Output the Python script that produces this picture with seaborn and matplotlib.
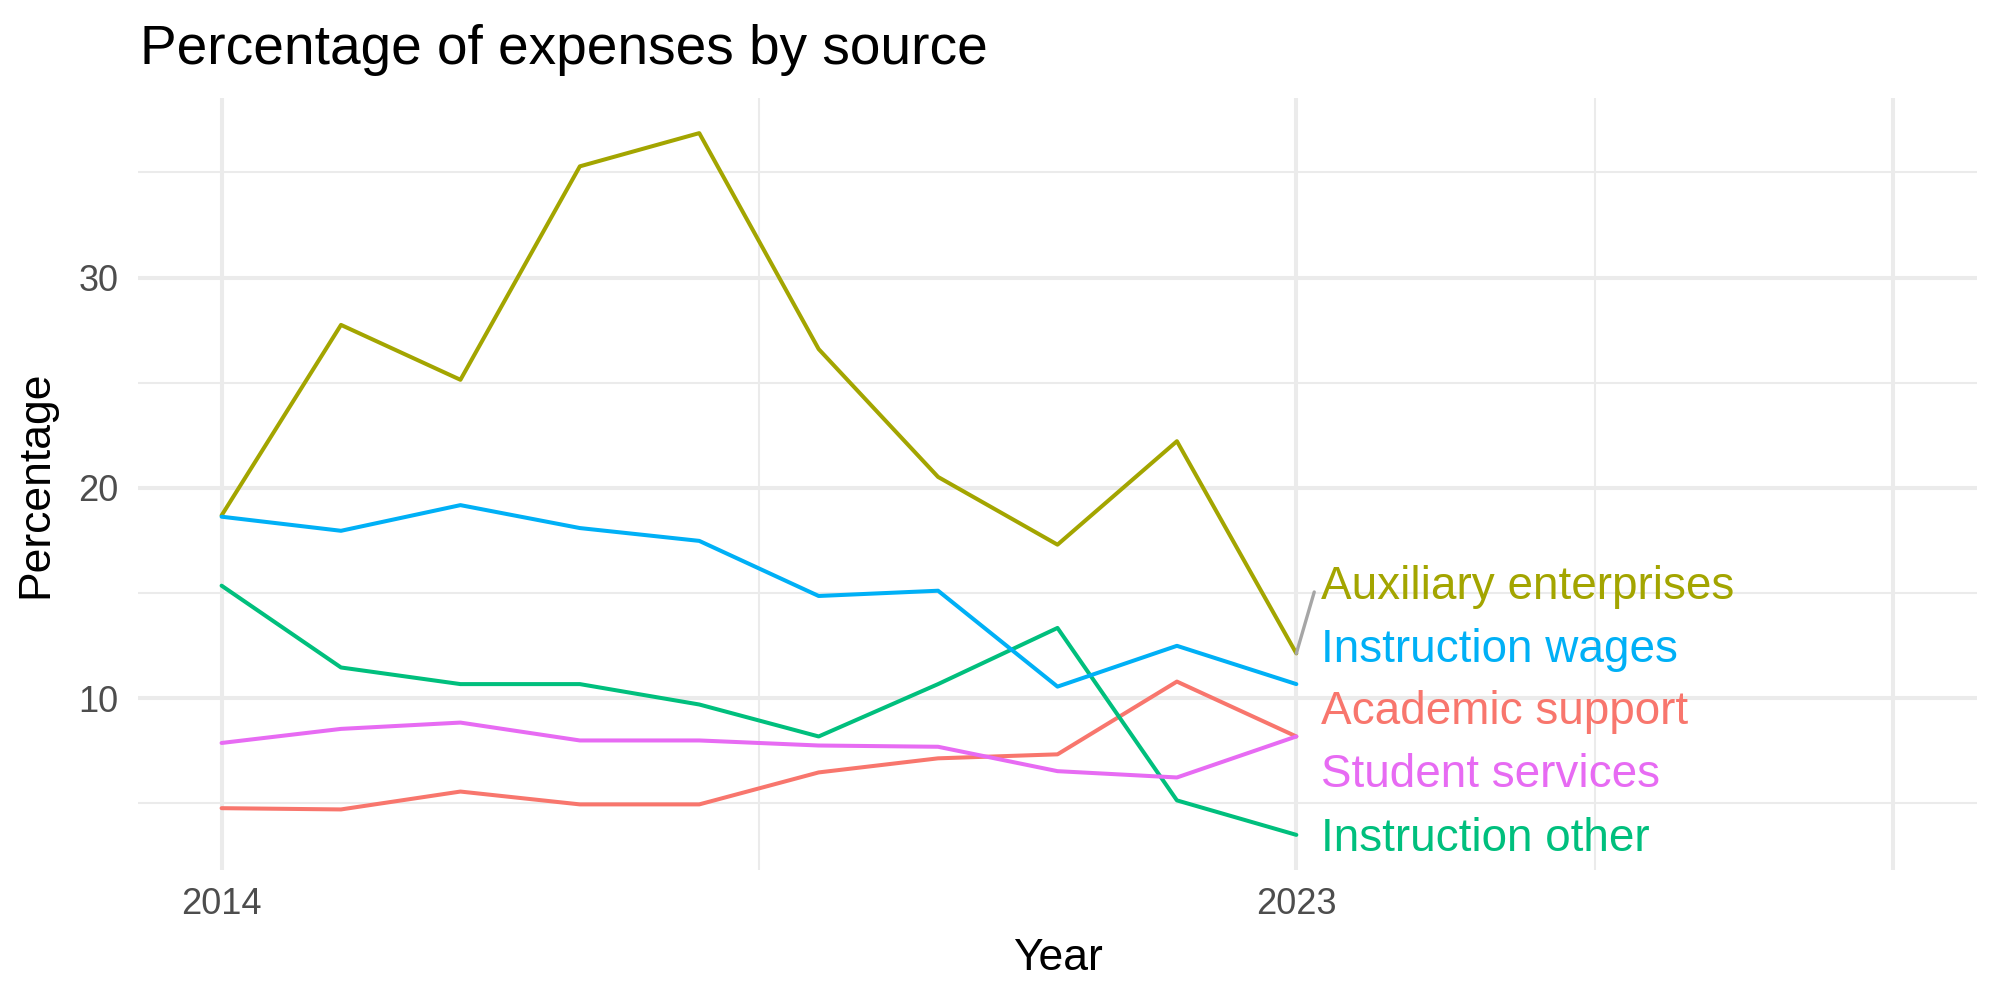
import pandas as pd
import matplotlib.pyplot as plt
import seaborn as sns

years = list(range(2014, 2024))
academic_support = [4.77, 4.71, 5.56, 4.95, 4.95, 6.47, 7.14, 7.33, 10.79, 8.18]
auxiliary_enterprises = [18.69, 27.75, 25.14, 35.29, 36.87, 26.6, 20.52, 17.3, 22.22, 12.13]
instruction_other = [15.35, 11.46, 10.67, 10.67, 9.70, 8.18, 10.67, 13.34, 5.14, 3.50]
instruction_wages = [18.63, 17.96, 19.18, 18.09, 17.48, 14.86, 15.11, 10.55, 12.49, 10.67]
student_services = [7.87, 8.54, 8.84, 7.99, 7.99, 7.75, 7.69, 6.53, 6.23, 8.18]

sources = ["Academic support", "Auxiliary enterprises", "Instruction other",
           "Instruction wages", "Student services"]
colors = ["#F8766D", "#A3A500", "#00BF7D", "#00B0F6", "#E76BF3"]

# end-of-line label heights (repelled, as in the original)
label_y = [9.33, 15.29, 3.31, 12.31, 6.35]

df = pd.DataFrame({
    "Year": years * 5,
    "Percentage": academic_support + auxiliary_enterprises + instruction_other
                  + instruction_wages + student_services,
    "Source": [s for s in sources for _ in years],
})

sns.set_theme(style="white")
plt.rcParams['font.family'] = ['Liberation Sans', 'DejaVu Sans']

fig = plt.figure(figsize=(10, 5), dpi=200)
ax = fig.add_axes([0.069, 0.13, 0.9195, 0.772])

sns.lineplot(data=df, x="Year", y="Percentage", hue="Source",
             palette=dict(zip(sources, colors)), linewidth=1.45,
             legend=False, ax=ax)

# labels at the line ends
for src, col, ly in zip(sources, colors, label_y):
    ax.text(2023.21, ly, src, color=col, fontsize=16.5, va="center", ha="left")
ax.plot([2023, 2023.15], [auxiliary_enterprises[-1], 15.05], color="#A6A6A6", lw=1.2)

ax.set_xlim(2013.3, 2028.7)
ax.set_ylim(1.83, 38.54)
ax.set_xticks([2014, 2023, 2028])
ax.set_xticklabels(["2014", "2023", ""])
ax.set_xticks([2018.5, 2025.5], minor=True)
ax.set_yticks([10, 20, 30])
ax.set_yticks([5, 15, 25, 35], minor=True)
ax.grid(which="major", color="#EBEBEB", lw=1.45)
ax.grid(which="minor", color="#EBEBEB", lw=0.75)
ax.set_axisbelow(True)
ax.tick_params(which="both", length=0, labelsize=13, labelcolor="#4D4D4D")
ax.tick_params(axis="y", pad=7)
ax.tick_params(axis="x", pad=6)
for sp in ax.spines.values():
    sp.set_visible(False)

ax.set_xlabel("Year", fontsize=16, color="black", labelpad=6)
ax.set_ylabel("Percentage", fontsize=16, color="black", labelpad=8)
fig.text(0.07, 1 - 64 / 1000, "Percentage of expenses by source", fontsize=19.8,
         va="baseline", ha="left", color="black")

fig.savefig("out.png", dpi=200, facecolor="white")
